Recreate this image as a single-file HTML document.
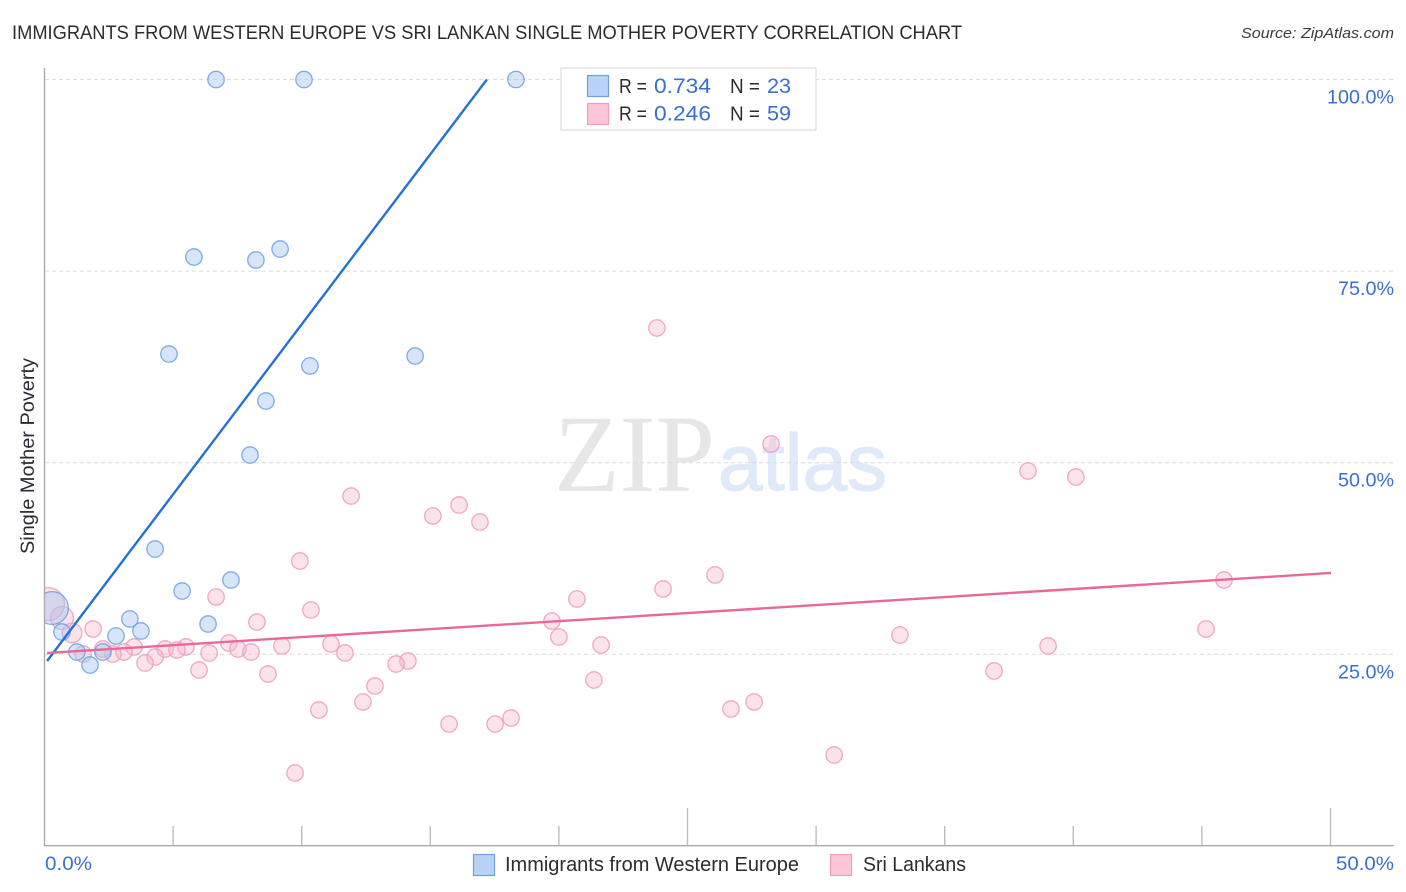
<!DOCTYPE html>
<html lang="en">
<head>
<meta charset="utf-8">
<title>Immigrants from Western Europe vs Sri Lankan Single Mother Poverty Correlation Chart</title>
<style>
html,body{margin:0;padding:0;background:#fff;width:1406px;height:892px;overflow:hidden}
svg{display:block;font-family:"Liberation Sans",sans-serif}
</style>
</head>
<body>
<svg id="chart" width="1406" height="892" viewBox="0 0 1406 892" xmlns="http://www.w3.org/2000/svg">
  <text x="12" y="39" font-size="19" fill="#2b2b33" textLength="950" lengthAdjust="spacingAndGlyphs">IMMIGRANTS FROM WESTERN EUROPE VS SRI LANKAN SINGLE MOTHER POVERTY CORRELATION CHART</text>
  <text x="1241" y="38" font-size="15" font-style="italic" fill="#3a3a42" textLength="153" lengthAdjust="spacingAndGlyphs">Source: ZipAtlas.com</text>
  <g>
    <text x="554" y="491" font-family="'Liberation Serif',serif" font-size="110" fill="#e6e6e6" textLength="161" lengthAdjust="spacingAndGlyphs">ZIP</text>
    <text x="718" y="490" font-size="80" fill="#dfe9f9" stroke="#dfe9f9" stroke-width="1.2" textLength="169" lengthAdjust="spacingAndGlyphs">atlas</text>
  </g>
  <g id="grid"></g>
  <g id="xticks"></g>
  <svg id="points" x="45" y="60" width="1349" height="786" viewBox="45 60 1349 786" overflow="hidden"></svg>
  <line x1="44.5" y1="68" x2="44.5" y2="846" stroke="#ababab" stroke-width="1.4"/>
  <line x1="44" y1="845.7" x2="1394" y2="845.7" stroke="#ababab" stroke-width="1.4"/>
  <g id="trends"></g>
  <g id="ylabels"></g>
  <g id="xlabels"></g>
  <text transform="translate(34 554) rotate(-90)" font-size="19" fill="#2b2b33" textLength="196" lengthAdjust="spacingAndGlyphs">Single Mother Poverty</text>

  <g>
    <rect x="561" y="68" width="255" height="62" fill="#fff" stroke="#e2e2e2" stroke-width="1.4"/>
    <rect x="587.5" y="75.5" width="21" height="21" fill="#b9d3f6" stroke="#6f9fdd" stroke-width="1.2"/>
    <rect x="587.5" y="103.5" width="21" height="21" fill="#fcc6d8" stroke="#f09fb9" stroke-width="1.2"/>
    <text x="619" y="93" font-size="20" fill="#2b2b33" textLength="28" lengthAdjust="spacingAndGlyphs">R =</text>
    <text x="654" y="93" font-size="21" fill="#3a6fd2" textLength="57" lengthAdjust="spacingAndGlyphs">0.734</text>
    <text x="730" y="93" font-size="20" fill="#2b2b33" textLength="30" lengthAdjust="spacingAndGlyphs">N =</text>
    <text x="767" y="93" font-size="21" fill="#3a6fd2" textLength="24" lengthAdjust="spacingAndGlyphs">23</text>
    <text x="619" y="120.500" font-size="20" fill="#2b2b33" textLength="28" lengthAdjust="spacingAndGlyphs">R =</text>
    <text x="654" y="120.500" font-size="21" fill="#3a6fd2" textLength="57" lengthAdjust="spacingAndGlyphs">0.246</text>
    <text x="730" y="120.500" font-size="20" fill="#2b2b33" textLength="30" lengthAdjust="spacingAndGlyphs">N =</text>
    <text x="767" y="120.500" font-size="21" fill="#3a6fd2" textLength="24" lengthAdjust="spacingAndGlyphs">59</text>
  </g>

  <g>
    <rect x="473.500" y="854.500" width="21" height="21" fill="#b9d3f6" stroke="#6f9fdd" stroke-width="1.2"/>
    <text x="505" y="871" font-size="20" fill="#2b2b33" textLength="294" lengthAdjust="spacingAndGlyphs">Immigrants from Western Europe</text>
    <rect x="830.500" y="854.500" width="21" height="21" fill="#fcc6d8" stroke="#f09fb9" stroke-width="1.2"/>
    <text x="863" y="871" font-size="20" fill="#2b2b33" textLength="103" lengthAdjust="spacingAndGlyphs">Sri Lankans</text>
  </g>
</svg>
<script>
const yTicks = [100, 75, 50, 25];
const yTickLabels = ["100.0%", "75.0%", "50.0%", "25.0%"];
const xTicks = [5, 10, 15, 20, 25, 30, 35, 40, 45, 50];
const xMajorTicks = [25, 50];
const xEndTicks = [0, 50];
const xEndLabels = ["0.0%", "50.0%"];

const blueX = [6.67,10.09,18.33,5.81,8.22,9.16,4.84,14.41,10.32,8.61,7.99,4.30,5.35,7.25,6.36,3.32,3.75,2.78,0.68,1.26,2.27,1.77,0.29];
const blueY = [100,100,100,76.84,76.45,77.88,64.18,63.92,62.62,58.05,51.0,38.74,33.26,34.69,28.95,29.61,28.04,27.39,27.91,25.30,25.30,23.60,31.04];
const blueWeight = [1,1,1,1,1,1,1,1,1,1,1,1,1,1,1,1,1,1,1,1,1,1,2];

const pinkX = [23.81,28.25,38.24,40.10,11.92,16.12,15.10,16.93,9.93,26.07,45.86,24.05,6.67,20.70,10.36,19.73,8.26,1.89,20.00,33.26,45.16,7.17,11.14,21.64,39.02,9.23,5.50,3.48,4.69,5.15,7.52,8.03,6.40,11.68,3.09,2.66,2.27,1.50,4.30,3.91,14.13,13.67,6.01,8.69,36.92,21.36,12.85,12.38,27.59,26.69,10.67,18.14,15.73,17.52,30.70,9.74,0.14,0.68,1.07];
const pinkY = [67.58,52.44,48.92,48.13,45.65,44.48,43.05,42.26,37.17,35.35,34.69,33.52,32.48,32.22,30.78,29.34,29.21,28.30,27.26,27.52,28.30,26.47,26.34,26.21,26.08,26.08,25.95,25.95,25.69,25.56,25.69,25.30,25.17,25.17,25.30,25.04,25.69,25.04,24.65,23.86,24.13,23.73,22.95,22.43,22.82,21.65,20.86,18.78,18.78,17.86,17.73,16.69,15.90,15.90,11.86,9.51,31.56,29.74,27.78];
const pinkWeight = [1,1,1,1,1,1,1,1,1,1,1,1,1,1,1,1,1,1,1,1,1,1,1,1,1,1,1,1,1,1,1,1,1,1,1,1,1,1,1,1,1,1,1,1,1,1,1,1,1,1,1,1,1,1,1,1,2,1.4,1.2];

const blueTrendX = [0.1, 17.2];
const blueTrendY = [24.13, 100];
const pinkTrendX = [0.1, 50.02];
const pinkTrendY = [25.17, 35.61];

const NS = "http://www.w3.org/2000/svg";
function xScale(v) { return 44.5 + v * 25.72; }
function yScale(v) { return 79.5 + (100 - v) * 7.664; }
function make(tag, attrs, parent) {
  const el = document.createElementNS(NS, tag);
  for (const k in attrs) el.setAttribute(k, attrs[k]);
  parent.appendChild(el);
  return el;
}

const gridG = document.getElementById("grid");
yTicks.forEach(function (t) {
  const el = make("line", {x1: 45, x2: 1394, y1: yScale(t), y2: yScale(t), stroke: "#dcdcdc", "stroke-width": 1, "stroke-dasharray": "4 3"}, gridG);
  
  
});

const xtickG = document.getElementById("xticks");
xTicks.forEach(function (t) {
  const top = xMajorTicks.indexOf(t) >= 0 ? 808 : 826;
  const el = make("line", {x1: xScale(t), x2: xScale(t), y1: top, y2: 846, stroke: "#bdbdbd", "stroke-width": 1.4}, xtickG);
  
  
});

const ylabelG = document.getElementById("ylabels");
yTicks.forEach(function (t, i) {
  const el = make("text", {x: 1394, y: yScale(t) + 24, "text-anchor": "end", "font-size": 19, fill: "#3a6fd2", textLength: i === 0 ? 67 : 56, lengthAdjust: "spacingAndGlyphs"}, ylabelG);
  
  
  el.textContent = yTickLabels[i];
});

const xlabelG = document.getElementById("xlabels");
xEndTicks.forEach(function (t, i) {
  const el = make("text", {x: i === 0 ? 45 : 1394, y: 870, "text-anchor": i === 0 ? "start" : "end", "font-size": 19, fill: "#3a6fd2", textLength: i === 0 ? 47 : 58, lengthAdjust: "spacingAndGlyphs"}, xlabelG);
  
  
  el.textContent = xEndLabels[i];
});

const pointG = document.getElementById("points");
pinkX.forEach(function (v, i) {
  const el = make("circle", {cx: xScale(v), cy: yScale(pinkY[i]), r: 8.2 * pinkWeight[i], fill: "#f7b6ca", "fill-opacity": 0.4, stroke: "#ec9ab6", "stroke-opacity": 0.85, "stroke-width": 1.3}, pointG);
  
  
});
blueX.forEach(function (v, i) {
  const el = make("circle", {cx: xScale(v), cy: yScale(blueY[i]), r: 8.2 * blueWeight[i], fill: "#a9c9f2", "fill-opacity": 0.48, stroke: "#6b9fe0", "stroke-opacity": 0.85, "stroke-width": 1.3}, pointG);
  
  
});

const trendG = document.getElementById("trends");
const blueLine = make("line", {x1: xScale(blueTrendX[0]), y1: yScale(blueTrendY[0]), x2: xScale(blueTrendX[1]), y2: yScale(blueTrendY[1]), stroke: "#2670d8", "stroke-width": 2.4}, trendG);


const pinkLine = make("line", {x1: xScale(pinkTrendX[0]), y1: yScale(pinkTrendY[0]), x2: xScale(pinkTrendX[1]), y2: yScale(pinkTrendY[1]), stroke: "#e9689b", "stroke-width": 2.4}, trendG);


</script>
</body>
</html>
